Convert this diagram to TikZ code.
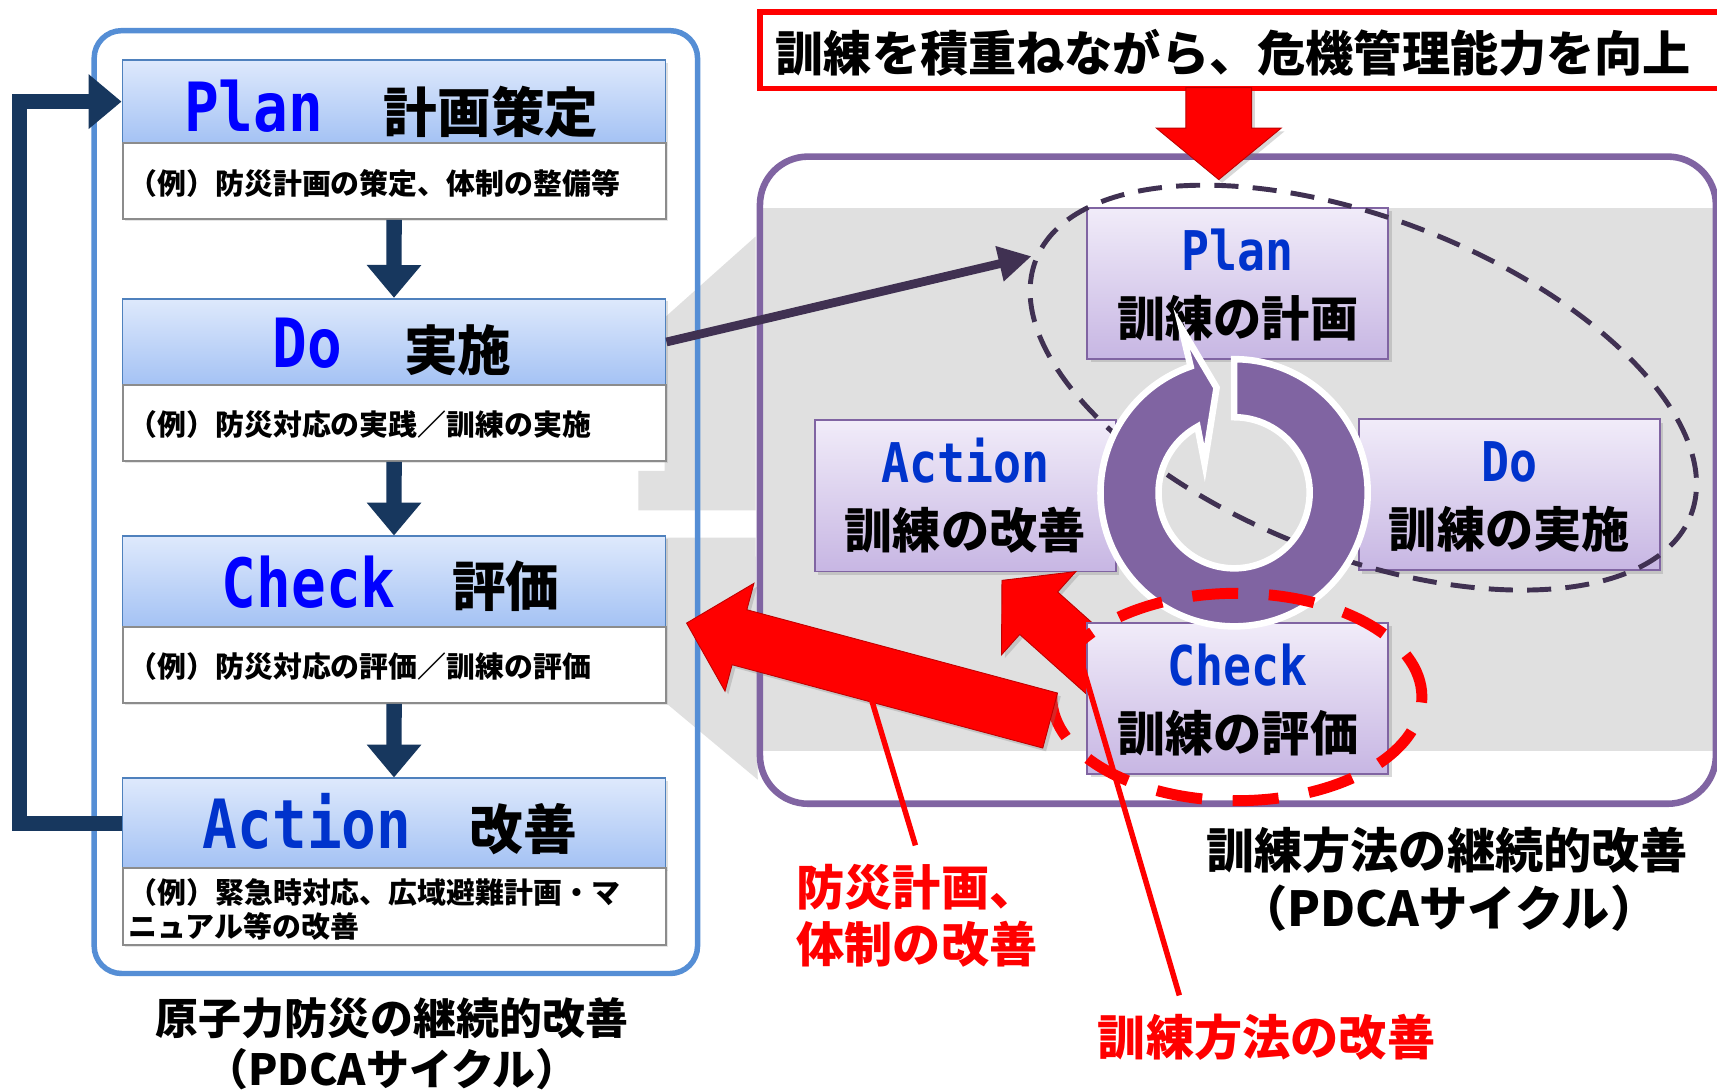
\documentclass[tikz,border=0pt]{standalone}
\usepackage{fontspec}
\newfontfamily\jp{Noto Sans CJK JP}
\newfontfamily\lat{DejaVu Sans Mono}[FakeStretch=0.85]
\usetikzlibrary{arrows.meta,calc,shadows,shapes.geometric}
\definecolor{navy}{RGB}{23,55,94}
\definecolor{blueline}{RGB}{85,142,213}
\definecolor{headborder}{RGB}{79,129,189}
\definecolor{headtop}{RGB}{222,233,252}
\definecolor{headbot}{RGB}{164,194,244}
\definecolor{detgray}{RGB}{140,140,140}
\definecolor{purpleline}{RGB}{128,100,162}
\definecolor{rtop}{RGB}{241,236,249}
\definecolor{rbot}{RGB}{199,182,227}
\definecolor{darkpurple}{RGB}{64,49,82}
\definecolor{panelgray}{RGB}{224,224,224}
\definecolor{textblue}{RGB}{0,0,255}
\definecolor{textblueb}{RGB}{0,51,204}
\definecolor{arrowred}{RGB}{255,0,0}
\newcommand\blockarrow[6]{%
  \fill[#1] (#2) -- ($(#2)!#4!(#3)!#5!90:(#3)$) -- ($(#2)!#4!(#3)!#6!90:(#3)$)
    -- ($(#3)!#6!-90:(#2)$) -- ($(#3)!#6!90:(#2)$)
    -- ($(#2)!#4!(#3)!#6!-90:(#3)$) -- ($(#2)!#4!(#3)!#5!-90:(#3)$) -- cycle;}
\tikzset{
  lhead/.style={draw=headborder, line width=0.8pt, top color=headtop, bottom color=headbot,
    anchor=north west, inner sep=0, minimum width=248pt,
    drop shadow={opacity=0.25, shadow xshift=1.2pt, shadow yshift=-1.2pt}},
  ldet/.style={draw=detgray, line width=0.9pt, fill=white, anchor=north west, inner sep=0,
    minimum width=248pt, drop shadow={opacity=0.2, shadow xshift=1pt, shadow yshift=-1pt}},
  rbox/.style={draw=purpleline, line width=0.9pt, top color=rtop, bottom color=rbot,
    anchor=north west, inner sep=0, minimum width=137.5pt, minimum height=69pt,
    drop shadow={opacity=0.3, shadow xshift=1.5pt, shadow yshift=-1.5pt}},
  lathead/.style={anchor=base, inner sep=0, text=textblue, font=\lat\bfseries\fontsize{31pt}{36pt}\selectfont},
  jphead/.style={anchor=base, inner sep=0, font=\jp\bfseries\fontsize{24.5pt}{29pt}\selectfont},
  dettext/.style={anchor=base west, inner sep=0, font=\jp\bfseries\fontsize{13.2pt}{16pt}\selectfont},
  rlat/.style={anchor=base, inner sep=0, text=textblueb, font=\lat\bfseries\fontsize{25pt}{28pt}\selectfont},
  rjp/.style={anchor=base, inner sep=0, font=\jp\bfseries\fontsize{22pt}{26pt}\selectfont},
  capL/.style={anchor=base, inner sep=0, font=\jp\bfseries\fontsize{19.6pt}{24pt}\selectfont},
  capR/.style={anchor=base, inner sep=0, font=\jp\bfseries\fontsize{22pt}{26pt}\selectfont},
  redlab/.style={inner sep=0, text=red, font=\jp\bfseries\fontsize{22pt}{26pt}\selectfont},
  navyarrow/.style={draw=navy, line width=7pt, -{Triangle[length=15pt,width=24pt]}},
  redblock/.style={fill=arrowred, draw=red!75!black, line width=0.4pt,
    drop shadow={opacity=0.3, shadow xshift=1.5pt, shadow yshift=-1.5pt}},
  redline/.style={draw=red, line width=2.5pt},
}
\begin{document}
\begin{tikzpicture}[x=0.5pt,y=-0.5pt]
\useasboundingbox (0,0) rectangle (1568,996);
\fill[white] (0,0) rectangle (1568,996);

% gray panel and projections
\fill[panelgray] (694,190) rectangle (1568,686);
\fill[panelgray] (583,466) -- (583,430) -- (607,430) -- (607,290) -- (690,216) -- (690,466) -- cycle;
\fill[panelgray] (607,491) -- (690,491) -- (692,712) -- (607,641) -- cycle;

% panels
\draw[blueline, line width=2.5pt, rounded corners=12.5pt] (86,28) rectangle (637,889);
\draw[purpleline, line width=3pt, rounded corners=22pt] (694,143) rectangle (1567,734);

% title frame (runs off the right edge)
\draw[red, line width=2.5pt] (1700,11) -- (694,11) -- (694,81) -- (1700,81);
\node[anchor=base west, inner sep=0, font=\jp\bfseries\fontsize{22pt}{26pt}\selectfont] (titletext) at (708,65) {訓練を積重ねながら、危機管理能力を向上};

% left boxes
\node[lhead, minimum height=38pt] (planH) at (111,54) {};
\node[ldet, minimum height=34.5pt] (planD) at (111,130) {};
\node[lhead, minimum height=39.5pt] (doH) at (111,272) {};
\node[ldet, minimum height=34.5pt] (doD) at (111,351) {};
\node[lhead, minimum height=41.5pt] (checkH) at (111,489) {};
\node[ldet, minimum height=34.5pt] (checkD) at (111,572) {};
\node[lhead, minimum height=41pt] (actionH) at (111,710) {};
\node[ldet, minimum height=35pt] (actionD) at (111,792) {};

\node[lathead] (planL) at (231.5,120) {Plan};
\node[jphead] (planJ) at (448.5,121) {計画策定};
\node[lathead] (doL) at (281,336) {Do};
\node[jphead] (doJ) at (418,338) {実施};
\node[lathead] (checkL) at (282,555) {Check};
\node[jphead] (checkJ) at (462,554) {評価};
\node[lathead, text=textblueb] (actionL) at (280.5,775) {Action};
\node[jphead] (actionJ) at (478,776) {改善};

\node[dettext] (planT) at (117,178) {（例）防災計画の策定、体制の整備等};
\node[dettext] (doT) at (117,398) {（例）防災対応の実践／訓練の実施};
\node[dettext] (checkT) at (117,619) {（例）防災対応の評価／訓練の評価};
\node[dettext] (actionT1) at (117,825) {（例）緊急時対応、広域避難計画・マ};
\node[dettext] (actionT2) at (117,856) {ニュアル等の改善};

% left arrows
\draw[navyarrow] (planD.south) -- (doH.north);
\draw[navyarrow] (doD.south) -- (checkH.north);
\draw[navyarrow] (checkD.south) -- (actionH.north);
\draw[navyarrow] (actionH.west) -- ++(-93,0) |- (planH.west);

% right boxes
\node[rbox] (rplan) at (992,189) {};
\node[rbox] (raction) at (743,383) {};
\node[rbox] (rdo) at (1240,382) {};

\coordinate (smalltip) at (915,530);
\coordinate (smalltail) at (1009,614);
\blockarrow{redblock}{smalltip}{smalltail}{22.5pt}{25.5pt}{13pt}

\node[rbox] (rcheck) at (992,568) {};

\node[rlat] (rplanL) at ($(rplan.north)+(0,58)$) {Plan};
\node[rjp] (rplanJ) at ($(rplan.north)+(0,118)$) {訓練の計画};
\node[rlat] (ractionL) at ($(raction.north)+(0,58)$) {Action};
\node[rjp] (ractionJ) at ($(raction.north)+(0,118)$) {訓練の改善};
\node[rlat] (rdoL) at ($(rdo.north)+(0,58)$) {Do};
\node[rjp] (rdoJ) at ($(rdo.north)+(0,118)$) {訓練の実施};
\node[rlat] (rcheckL) at ($(rcheck.north)+(0,58)$) {Check};
\node[rjp] (rcheckJ) at ($(rcheck.north)+(0,118)$) {訓練の評価};

% dashed cycle ellipse
\node[draw=darkpurple, line width=2.25pt, dash pattern=on 11pt off 6.5pt, ellipse,
  minimum width=321pt, minimum height=154pt, rotate=-21.3, inner sep=0] (cycleell) at (1245,354) {};

% ring arrow
\coordinate (rc) at (1127,450);
\path[fill=purpleline, draw=white, line width=3pt, line join=miter]
  ($(rc)+(-90:122)$) arc[start angle=-90, end angle=251, radius=122]
  -- (1079,300) -- (1111,354) -- (1100,423)
  -- ($(rc)+(241:69)$) arc[start angle=241, end angle=-90, radius=69] -- cycle;

% red dashed ellipse around Check
\node[draw=red, line width=5pt, dash pattern=on 21pt off 14pt, ellipse,
  minimum width=169pt, minimum height=94.7pt, inner sep=0] (checkring) at (1129.5,636.5) {};

% dark arrow Do -> cycle
\coordinate (ellin) at (942,234);
\draw[darkpurple, line width=4pt, -{Triangle[length=15pt,width=15.5pt]}] (doH.east) -- (ellin);

% big red arrow
\coordinate (bigtip) at (627,569);
\coordinate (bigtail) at (959,658);
\blockarrow{redblock}{bigtip}{bigtail}{25pt}{25.5pt}{13pt}

% red down arrow from title
\coordinate (rdtip) at (1113,164);
\coordinate (rdtail) at (1113,80);
\blockarrow{redblock}{rdtip}{rdtail}{23.5pt}{28.5pt}{15pt}

% red callout lines
\coordinate (l1a) at (795,636);
\coordinate (l1b) at (836,772);
\coordinate (l2a) at (983,589);
\coordinate (l2b) at (1077,909);
\draw[redline] (l1a) -- (l1b);
\draw[redline] (l2a) -- (l2b);

% labels
\node[redlab, anchor=base west] (lab1) at (727,827) {防災計画、};
\node[redlab, anchor=base west] (lab2) at (727,879) {体制の改善};
\node[redlab, anchor=base] (lab3) at (1156.7,964) {訓練方法の改善};

\node[capR] (capR1) at (1321.5,793) {訓練方法の継続的改善};
\node[capR] (capR2) at (1323,846) {（PDCAサイクル）};
\node[capL] (capL1) at (358,945) {原子力防災の継続的改善};
\node[capL] (capL2) at (358,991) {（PDCAサイクル）};
\end{tikzpicture}
\end{document}
